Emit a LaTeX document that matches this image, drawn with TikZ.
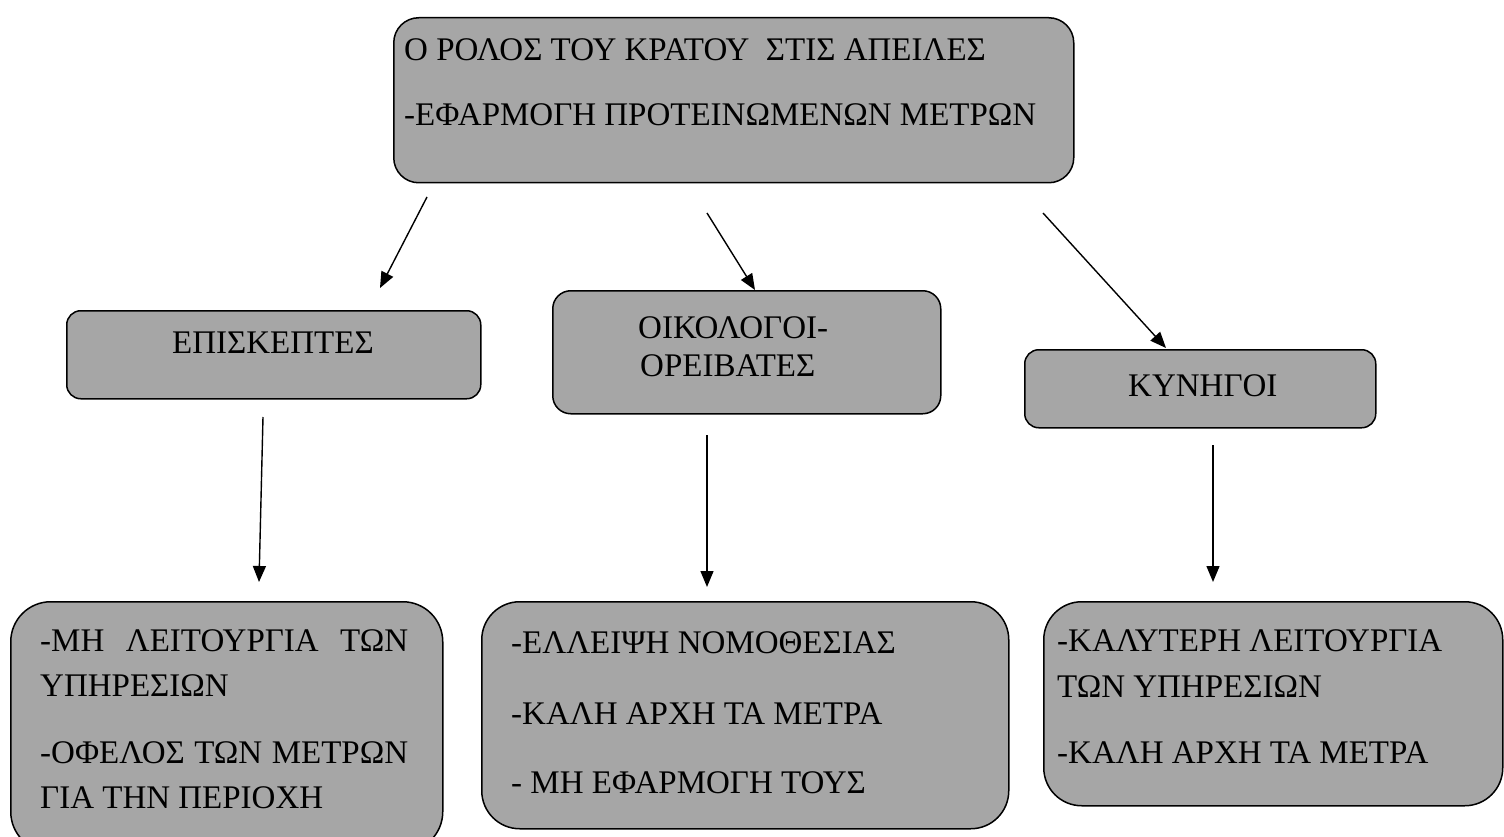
\documentclass[tikz,border=0pt]{standalone}
\usepackage{fontspec}
\setmainfont{Liberation Serif}
\usetikzlibrary{arrows.meta}
\definecolor{boxgray}{HTML}{A6A6A6}
\begin{document}
\begin{tikzpicture}[x=1pt,y=-1pt,
  box/.style={draw=black,line width=1.5pt,fill=boxgray,inner sep=0pt,anchor=north west},
  txt/.style={anchor=base west,inner sep=0pt,font=\fontsize{33}{40}\selectfont},
  arr/.style={line width=1.4pt,-{Triangle[length=16pt,width=13pt]}}]
\useasboundingbox (0,0) rectangle (1504,837);

% boxes
\node[box,rounded corners=25pt,minimum width=680pt,minimum height=165pt] (top) at (393,17) {};
\node[box,rounded corners=14pt,minimum width=414pt,minimum height=88pt] (visit) at (66,310) {};
\node[box,rounded corners=18pt,minimum width=388pt,minimum height=123pt] (eco) at (552,290) {};
\node[box,rounded corners=14pt,minimum width=351pt,minimum height=78pt] (hunt) at (1024,349) {};
\node[box,rounded corners=40pt,minimum width=432pt,minimum height=250pt] (visitb) at (10,601) {};
\node[box,rounded corners=38pt,minimum width=527pt,minimum height=227pt] (ecob) at (481,601) {};
\node[box,rounded corners=38pt,minimum width=459pt,minimum height=204pt] (huntb) at (1043,601) {};

% texts
\node[txt] (t1) at (404,61) {Ο ΡΟΛΟΣ ΤΟΥ ΚΡΑΤΟΥ \ ΣΤΙΣ ΑΠΕΙΛΕΣ};
\node[txt] (t2) at (404,126) {-ΕΦΑΡΜΟΓΗ ΠΡΟΤΕΙΝΩΜΕΝΩΝ ΜΕΤΡΩΝ};

\node[txt] (v1) at (172,353) {ΕΠΙΣΚΕΠΤΕΣ};
\node[txt] (e1) at (638,338) {ΟΙΚΟΛΟΓΟΙ-};
\node[txt] (e2) at (640,376) {ΟΡΕΙΒΑΤΕΣ};
\node[txt] (h1) at (1128,396) {ΚΥΝΗΓΟΙ};

\node[txt] (vb1) at (40,651) {\makebox[368pt][s]{-ΜΗ ΛΕΙΤΟΥΡΓΙΑ ΤΩΝ}};
\node[txt] (vb2) at (40,696) {ΥΠΗΡΕΣΙΩΝ};
\node[txt] (vb3) at (40,763) {\makebox[368pt][s]{-ΟΦΕΛΟΣ ΤΩΝ ΜΕΤΡΩΝ}};
\node[txt] (vb4) at (40,808) {ΓΙΑ ΤΗΝ ΠΕΡΙΟΧΗ};

\node[txt] (eb1) at (511,653) {-ΕΛΛΕΙΨΗ ΝΟΜΟΘΕΣΙΑΣ};
\node[txt] (eb2) at (511,724) {-ΚΑΛΗ ΑΡΧΗ ΤΑ ΜΕΤΡΑ};
\node[txt] (eb3) at (511,793) {- ΜΗ ΕΦΑΡΜΟΓΗ ΤΟΥΣ};

\node[txt] (hb1) at (1057,651) {-ΚΑΛΥΤΕΡΗ ΛΕΙΤΟΥΡΓΙΑ};
\node[txt] (hb2) at (1057,697) {ΤΩΝ ΥΠΗΡΕΣΙΩΝ};
\node[txt] (hb3) at (1057,763) {-ΚΑΛΗ ΑΡΧΗ ΤΑ ΜΕΤΡΑ};

% connector end points
\coordinate (a1s) at (427,197);
\coordinate (a1e) at (380,288);
\coordinate (a2s) at (707,213);
\coordinate (a2e) at (755,290);
\coordinate (a3s) at (1043,213);
\coordinate (a3e) at (1166,348);
\coordinate (a4s) at (263,417);
\coordinate (a4e) at (259,582);
\coordinate (a5s) at (707,435);
\coordinate (a5e) at (707,587);
\coordinate (a6s) at (1213,445);
\coordinate (a6e) at (1213,582);

\draw[arr] (a1s) -- (a1e);
\draw[arr] (a2s) -- (a2e);
\draw[arr] (a3s) -- (a3e);
\draw[arr] (a4s) -- (a4e);
\draw[arr] (a5s) -- (a5e);
\draw[arr] (a6s) -- (a6e);
\end{tikzpicture}
\end{document}
